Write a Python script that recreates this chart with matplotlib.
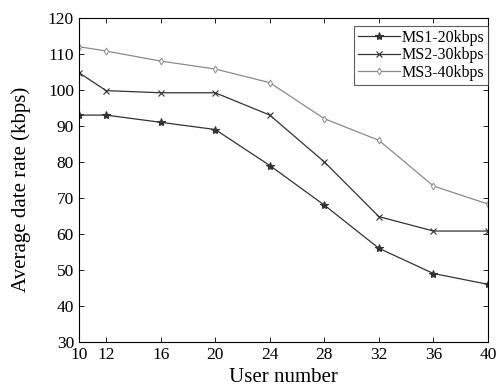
import matplotlib
matplotlib.use('Agg')
import matplotlib.pyplot as plt

# Данные
users = [10, 12, 16, 20, 24, 28, 32, 36, 40]
ms1 = [93, 93, 91, 89, 79, 68, 56, 49, 46]
ms2 = [104.8, 99.8, 99.2, 99.2, 93, 80, 64.8, 60.8, 60.8]
ms3 = [112, 110.8, 108, 105.8, 102, 92, 86, 73.3, 68.3]
labels = ['MS1-20kbps', 'MS2-30kbps', 'MS3-40kbps']

plt.rcParams['font.family'] = ['Liberation Serif', 'DejaVu Serif']

fig = plt.figure(figsize=(4.99, 3.89), dpi=100)
ax = fig.add_axes([0.158, 0.121, 0.82, 0.833])

ax.plot(users, ms1, color='#333333', lw=0.9, marker='*', ms=6, mew=0.8, label=labels[0])
ax.plot(users, ms2, color='#333333', lw=0.9, marker='x', ms=4, mew=0.8, label=labels[1])
ax.plot(users, ms3, color='#8a8a8a', lw=0.9, marker='d', ms=3.5, mfc='white', mew=0.7, label=labels[2])

ax.set_xlim(10, 40)
ax.set_ylim(30, 120)
ax.set_xticks(users)
ax.set_yticks(range(30, 121, 10))
ax.tick_params(direction='in', top=True, right=True, labelsize=12.5, length=3.5, width=0.6)
for s in ax.spines.values():
    s.set_linewidth(0.8)

ax.set_xlabel('User number', fontsize=15, labelpad=4)
ax.set_ylabel('Average date rate (kbps)', fontsize=15)
ax.yaxis.set_label_coords(-0.117, 0.47)

leg = ax.legend(loc='upper right', bbox_to_anchor=(1.0, 0.975), fontsize=11.5, fancybox=False,
                edgecolor='#333333', borderpad=0.25, labelspacing=0.08, handlelength=2.6,
                handletextpad=0.1, borderaxespad=0)
leg.get_frame().set_linewidth(0.8)

plt.savefig('out.png', dpi=100)
